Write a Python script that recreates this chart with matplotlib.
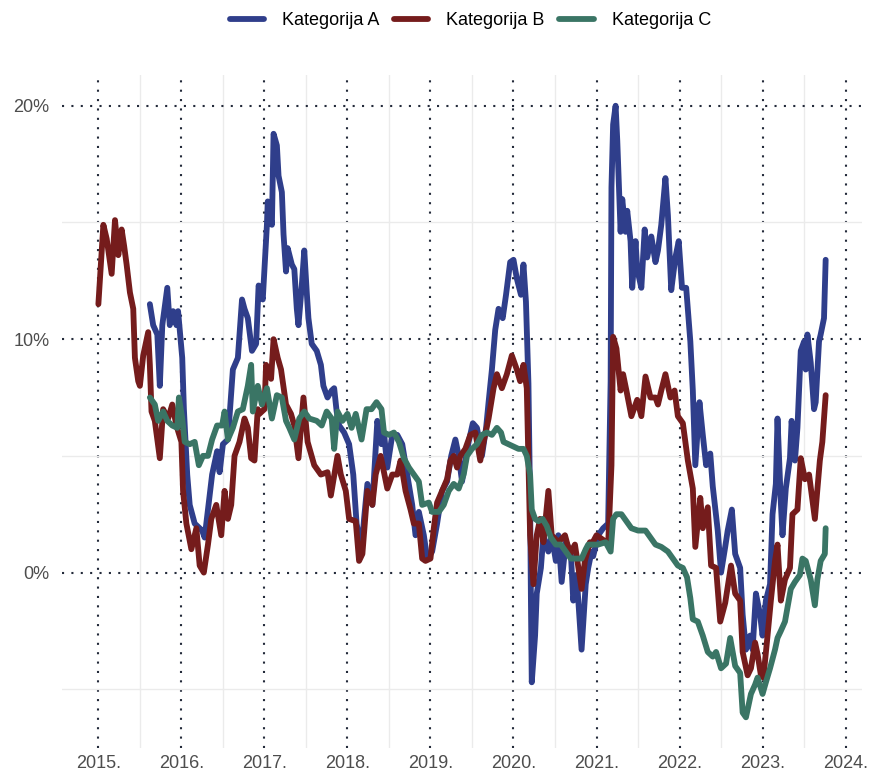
import matplotlib
matplotlib.use("Agg")
import matplotlib.pyplot as plt
from matplotlib.ticker import FixedLocator, FuncFormatter

plt.rcParams['font.family'] = ['Liberation Sans', 'DejaVu Sans']

# decimal years and values in percent
years_a = [2015.62, 2015.66, 2015.71, 2015.74, 2015.77, 2015.83, 2015.86, 2015.90, 2015.94, 2015.96,
           2016.01, 2016.03, 2016.07, 2016.10, 2016.16, 2016.25, 2016.28, 2016.32, 2016.37, 2016.43,
           2016.46, 2016.50, 2016.56, 2016.62, 2016.68, 2016.73, 2016.76, 2016.80, 2016.85, 2016.90,
           2016.93, 2016.98, 2017.03, 2017.04, 2017.09, 2017.11, 2017.15, 2017.17, 2017.21, 2017.23,
           2017.26, 2017.28, 2017.33, 2017.36, 2017.39, 2017.41, 2017.45, 2017.48, 2017.51, 2017.53,
           2017.57, 2017.63, 2017.68, 2017.71, 2017.76, 2017.81, 2017.84, 2017.87, 2017.90, 2017.96,
           2018.02, 2018.07, 2018.11, 2018.17, 2018.20, 2018.24, 2018.30, 2018.36, 2018.41, 2018.44,
           2018.48, 2018.54, 2018.60, 2018.66, 2018.72, 2018.78, 2018.82, 2018.86, 2018.92, 2018.96,
           2019.02, 2019.08, 2019.14, 2019.20, 2019.25, 2019.30, 2019.34, 2019.38, 2019.43, 2019.46,
           2019.51, 2019.56, 2019.62, 2019.67, 2019.70, 2019.74, 2019.78, 2019.82, 2019.87, 2019.91,
           2019.96, 2020.00, 2020.04, 2020.09, 2020.12, 2020.15, 2020.18, 2020.20, 2020.21, 2020.22,
           2020.26, 2020.28, 2020.33, 2020.36, 2020.42, 2020.46, 2020.51, 2020.54, 2020.58, 2020.63,
           2020.69, 2020.72, 2020.76, 2020.82, 2020.87, 2020.90, 2020.94, 2020.96, 2021.02, 2021.08,
           2021.14, 2021.17, 2021.18, 2021.20, 2021.23, 2021.25, 2021.29, 2021.31, 2021.35, 2021.37,
           2021.41, 2021.43, 2021.47, 2021.49, 2021.54, 2021.58, 2021.61, 2021.66, 2021.71, 2021.74,
           2021.78, 2021.83, 2021.86, 2021.90, 2021.95, 2021.99, 2022.03, 2022.08, 2022.13, 2022.16,
           2022.19, 2022.24, 2022.28, 2022.32, 2022.37, 2022.40, 2022.46, 2022.50, 2022.55, 2022.58,
           2022.63, 2022.67, 2022.73, 2022.76, 2022.80, 2022.85, 2022.88, 2022.92, 2022.97, 2023.00,
           2023.04, 2023.09, 2023.12, 2023.16, 2023.18, 2023.22, 2023.24, 2023.28, 2023.33, 2023.35,
           2023.39, 2023.42, 2023.46, 2023.50, 2023.52, 2023.54, 2023.58, 2023.62, 2023.64, 2023.68,
           2023.70, 2023.74, 2023.76]
kat_a = [11.5, 10.6, 10.2, 8.0, 10.6, 12.2, 10.6, 11.2, 10.6, 11.2,
         9.2, 7.0, 4.2, 2.9, 2.1, 1.8, 1.5, 2.7, 4.2, 5.2,
         4.3, 5.5, 5.7, 8.7, 9.2, 11.7, 11.3, 10.9, 9.5, 9.8,
         12.3, 11.7, 14.9, 15.9, 14.9, 18.8, 18.3, 17.0, 16.3, 14.5,
         12.9, 13.9, 13.2, 13.0, 11.3, 10.6, 12.3, 13.8, 12.0, 10.9,
         9.8, 9.5, 8.9, 8.0, 7.5, 7.8, 7.9, 6.9, 6.3, 6.0,
         5.5, 4.2, 2.1, 1.0, 2.3, 3.8, 2.9, 6.5, 5.5, 6.0,
         4.5, 5.9, 5.9, 5.5, 4.2, 2.9, 1.6, 2.6, 1.6, 0.6,
         0.9, 2.1, 3.5, 3.9, 5.0, 5.7, 5.0, 3.9, 5.0, 5.6,
         6.4, 6.2, 5.0, 6.2, 7.3, 8.7, 10.4, 11.3, 10.9, 11.9,
         13.3, 13.4, 12.6, 11.9, 13.2, 11.6, 8.1, 3.0, -1.2, -4.7,
         -2.7, -0.9, 0.2, 1.6, 0.9, 1.6, 0.5, 1.6, -0.4, 1.3,
         0.9, -1.2, -0.1, -3.3, -0.5, 0.2, 0.9, 0.7, 1.6, 1.9,
         2.1, 8.2, 16.5, 19.2, 20.0, 18.5, 14.6, 16.0, 14.6, 15.5,
         14.2, 12.2, 14.2, 13.0, 12.2, 14.7, 13.5, 14.4, 13.3, 13.8,
         14.9, 16.9, 15.3, 12.1, 13.5, 14.2, 12.2, 12.2, 9.9, 7.8,
         4.6, 7.3, 5.9, 4.6, 5.1, 3.7, 1.8, 0.0, 1.1, 1.8,
         2.7, 0.8, 0.2, -1.8, -3.3, -2.7, -3.3, -0.9, -1.8, -2.7,
         -1.2, -0.5, 2.5, 3.8, 6.6, 3.0, 1.6, 3.6, 4.9, 6.5,
         4.8, 6.2, 9.5, 9.9, 8.7, 10.2, 9.0, 7.0, 7.3, 9.9,
         10.2, 10.9, 13.4]

years_b = [2015.00, 2015.06, 2015.10, 2015.16, 2015.20, 2015.24, 2015.28, 2015.31, 2015.34, 2015.38,
           2015.42, 2015.44, 2015.48, 2015.50, 2015.54, 2015.60, 2015.62, 2015.64, 2015.68, 2015.74,
           2015.78, 2015.84, 2015.89, 2015.94, 2016.00, 2016.02, 2016.06, 2016.12, 2016.18, 2016.22,
           2016.27, 2016.32, 2016.36, 2016.42, 2016.48, 2016.52, 2016.56, 2016.60, 2016.64, 2016.70,
           2016.76, 2016.80, 2016.84, 2016.88, 2016.92, 2016.94, 2017.00, 2017.02, 2017.08, 2017.11,
           2017.16, 2017.20, 2017.26, 2017.32, 2017.36, 2017.41, 2017.47, 2017.52, 2017.60, 2017.68,
           2017.76, 2017.80, 2017.88, 2017.92, 2017.98, 2018.02, 2018.10, 2018.14, 2018.18, 2018.24,
           2018.30, 2018.34, 2018.40, 2018.44, 2018.48, 2018.54, 2018.60, 2018.64, 2018.70, 2018.76,
           2018.80, 2018.86, 2018.90, 2018.94, 2019.00, 2019.04, 2019.08, 2019.14, 2019.20, 2019.24,
           2019.28, 2019.32, 2019.36, 2019.42, 2019.48, 2019.54, 2019.60, 2019.64, 2019.70, 2019.76,
           2019.80, 2019.86, 2019.92, 2019.98, 2020.04, 2020.08, 2020.12, 2020.16, 2020.18, 2020.20,
           2020.24, 2020.28, 2020.32, 2020.36, 2020.42, 2020.46, 2020.54, 2020.62, 2020.68, 2020.74,
           2020.82, 2020.86, 2020.92, 2020.94, 2021.00, 2021.08, 2021.14, 2021.18, 2021.20, 2021.24,
           2021.29, 2021.32, 2021.36, 2021.42, 2021.49, 2021.54, 2021.59, 2021.65, 2021.71, 2021.74,
           2021.78, 2021.83, 2021.89, 2021.94, 2021.98, 2022.04, 2022.10, 2022.16, 2022.19, 2022.25,
           2022.28, 2022.34, 2022.38, 2022.44, 2022.49, 2022.55, 2022.62, 2022.67, 2022.73, 2022.76,
           2022.82, 2022.86, 2022.91, 2022.94, 2022.98, 2023.01, 2023.06, 2023.10, 2023.15, 2023.18,
           2023.22, 2023.27, 2023.33, 2023.36, 2023.42, 2023.46, 2023.51, 2023.56, 2023.63, 2023.69,
           2023.72, 2023.76]
kat_b = [11.5, 14.9, 14.3, 12.8, 15.1, 13.6, 14.7, 14.0, 13.2, 12.0,
         11.3, 9.2, 8.2, 8.0, 9.3, 10.3, 8.9, 6.9, 6.5, 4.9,
         7.0, 6.6, 7.2, 6.3, 5.6, 3.5, 2.1, 1.0, 1.9, 0.3,
         0.0, 1.2, 2.3, 2.9, 1.6, 3.5, 2.3, 2.9, 5.0, 5.6,
         6.6, 6.2, 4.9, 4.8, 7.0, 6.8, 7.0, 8.9, 8.3, 10.0,
         9.2, 8.7, 7.2, 6.8, 6.3, 4.9, 7.5, 5.6, 4.6, 4.2,
         4.3, 3.3, 5.0, 4.2, 3.5, 2.3, 2.2, 0.5, 0.8, 3.5,
         2.9, 4.2, 5.0, 4.3, 3.6, 4.2, 4.2, 4.8, 3.5, 2.7,
         2.1, 2.1, 0.6, 0.5, 0.6, 1.9, 3.0, 3.5, 4.0, 4.8,
         5.0, 4.5, 5.0, 5.3, 5.9, 6.0, 4.8, 5.6, 6.6, 7.9,
         8.5, 7.9, 8.5, 9.3, 8.7, 8.2, 8.9, 7.9, 4.8, 1.6,
         -0.5, 1.6, 2.3, 1.3, 3.5, 1.6, 1.3, 1.6, 0.8, 1.2,
         -0.7, 0.5, 1.3, 1.2, 1.6, 1.4, 1.2, 4.6, 10.1, 9.6,
         7.8, 8.5, 7.8, 6.7, 7.4, 6.7, 8.4, 7.5, 7.5, 7.2,
         7.8, 8.5, 7.5, 7.8, 6.7, 6.4, 4.8, 3.6, 1.1, 3.2,
         1.9, 2.8, 0.3, 0.2, -2.1, -1.3, 0.3, -0.9, -1.2, -3.4,
         -4.4, -4.1, -3.0, -3.5, -4.4, -4.5, -2.7, -1.2, 0.5, 1.2,
         -1.2, -0.3, 0.2, 2.5, 2.7, 4.9, 4.0, 4.2, 2.3, 4.8,
         5.6, 7.6]

years_c = [2015.62, 2015.68, 2015.72, 2015.78, 2015.83, 2015.89, 2015.95, 2015.97, 2016.01, 2016.04,
           2016.10, 2016.16, 2016.21, 2016.26, 2016.32, 2016.37, 2016.43, 2016.49, 2016.52, 2016.56,
           2016.62, 2016.68, 2016.74, 2016.80, 2016.84, 2016.86, 2016.92, 2016.97, 2017.03, 2017.09,
           2017.15, 2017.21, 2017.26, 2017.30, 2017.36, 2017.42, 2017.48, 2017.54, 2017.63, 2017.69,
           2017.75, 2017.81, 2017.84, 2017.88, 2017.94, 2018.00, 2018.05, 2018.10, 2018.17, 2018.23,
           2018.29, 2018.35, 2018.41, 2018.44, 2018.50, 2018.56, 2018.62, 2018.68, 2018.74, 2018.80,
           2018.86, 2018.90, 2018.98, 2019.02, 2019.10, 2019.16, 2019.22, 2019.28, 2019.34, 2019.40,
           2019.44, 2019.50, 2019.56, 2019.62, 2019.68, 2019.74, 2019.80, 2019.85, 2019.88, 2019.94,
           2020.00, 2020.06, 2020.12, 2020.16, 2020.20, 2020.22, 2020.26, 2020.30, 2020.35, 2020.40,
           2020.45, 2020.51, 2020.57, 2020.63, 2020.69, 2020.75, 2020.82, 2020.87, 2020.90, 2021.02,
           2021.11, 2021.17, 2021.20, 2021.24, 2021.30, 2021.36, 2021.42, 2021.50, 2021.59, 2021.65,
           2021.71, 2021.78, 2021.86, 2021.92, 2021.98, 2022.04, 2022.09, 2022.13, 2022.16, 2022.22,
           2022.28, 2022.34, 2022.40, 2022.44, 2022.50, 2022.56, 2022.61, 2022.67, 2022.73, 2022.76,
           2022.80, 2022.86, 2022.91, 2022.94, 2023.00, 2023.04, 2023.09, 2023.15, 2023.18, 2023.22,
           2023.27, 2023.30, 2023.34, 2023.39, 2023.45, 2023.48, 2023.52, 2023.58, 2023.63, 2023.66,
           2023.70, 2023.75, 2023.76]
kat_c = [7.5, 7.2, 6.5, 6.9, 6.5, 6.3, 6.2, 7.5, 6.6, 5.6,
         5.5, 5.6, 4.6, 5.0, 5.0, 5.7, 6.3, 6.3, 6.9, 5.7,
         6.2, 6.9, 7.0, 8.0, 8.9, 6.9, 8.0, 7.2, 7.9, 6.6,
         7.6, 7.5, 6.5, 6.2, 5.7, 6.6, 6.9, 6.6, 6.5, 6.3,
         6.9, 6.6, 5.3, 6.9, 6.5, 6.8, 6.2, 6.8, 5.7, 7.0,
         7.0, 7.3, 7.0, 6.0, 5.9, 6.0, 5.6, 4.9, 4.5, 4.2,
         3.9, 2.9, 3.0, 2.6, 2.6, 2.9, 3.5, 3.8, 3.6, 4.2,
         5.0, 5.3, 5.5, 5.9, 6.0, 5.9, 6.2, 6.0, 5.6, 5.5,
         5.4, 5.3, 5.3, 5.0, 4.2, 2.7, 2.3, 2.2, 2.3, 2.0,
         1.5, 1.2, 1.2, 0.9, 0.6, 0.6, 0.6, 1.0, 1.2, 1.2,
         1.3, 0.9, 2.3, 2.5, 2.5, 2.2, 1.9, 1.8, 1.8, 1.5,
         1.2, 1.1, 0.9, 0.6, 0.3, 0.2, -0.2, -1.1, -2.0, -2.1,
         -2.7, -3.4, -3.6, -3.4, -4.1, -3.9, -2.8, -4.0, -4.3, -6.0,
         -6.2, -5.2, -4.8, -4.5, -5.2, -4.7, -4.1, -3.3, -2.8, -2.5,
         -2.1, -1.5, -0.7, -0.4, -0.1, 0.6, 0.5, -0.3, -1.4, -0.3,
         0.5, 0.8, 1.9]

series_names = ["Kategorija A", "Kategorija B", "Kategorija C"]
colors = ["#2f3e8b", "#751c1c", "#3a7565"]

year_ticks = list(range(2015, 2025))
pct_ticks = [0, 10, 20]
minor_x = [y + 0.5 for y in range(2014, 2024)]
minor_y = [-5, 5, 15]

fig = plt.figure(figsize=(8.71, 7.75), dpi=100)
ax = fig.add_axes([0.0712, 0.035, 0.9185, 0.868])

for xs, ys, name, col in zip([years_a, years_b, years_c], [kat_a, kat_b, kat_c], series_names, colors):
    ax.plot(xs, ys, color=col, lw=4.2, label=name, solid_joinstyle="round",
            solid_capstyle="round", zorder=3)

ax.margins(x=0.05, y=0.05)

ax.xaxis.set_major_locator(FixedLocator(year_ticks))
ax.yaxis.set_major_locator(FixedLocator(pct_ticks))
ax.xaxis.set_minor_locator(FixedLocator(minor_x))
ax.yaxis.set_minor_locator(FixedLocator(minor_y))
ax.xaxis.set_major_formatter(FuncFormatter(lambda v, p: f"{int(round(v))}."))
ax.yaxis.set_major_formatter(FuncFormatter(lambda v, p: f"{int(round(v))}%"))

ax.grid(which="minor", color="#ebebeb", lw=1.0, ls="-", zorder=0)
ax.grid(which="major", color="#232a3a", lw=1.5, ls=(0, (1, 3.5)), zorder=1)
ax.set_axisbelow(True)

ax.tick_params(which="both", length=0, labelsize=13, labelcolor="#4d4d4d")
ax.tick_params(axis="x", pad=5)
ax.tick_params(axis="y", pad=9)
for s in ax.spines.values():
    s.set_visible(False)

fig.legend(loc="center", bbox_to_anchor=(0.540, 0.973), ncol=3, frameon=False,
           fontsize=13, handlelength=1.9, handletextpad=1.0, columnspacing=0.8)

fig.savefig("out.png", dpi=100)
